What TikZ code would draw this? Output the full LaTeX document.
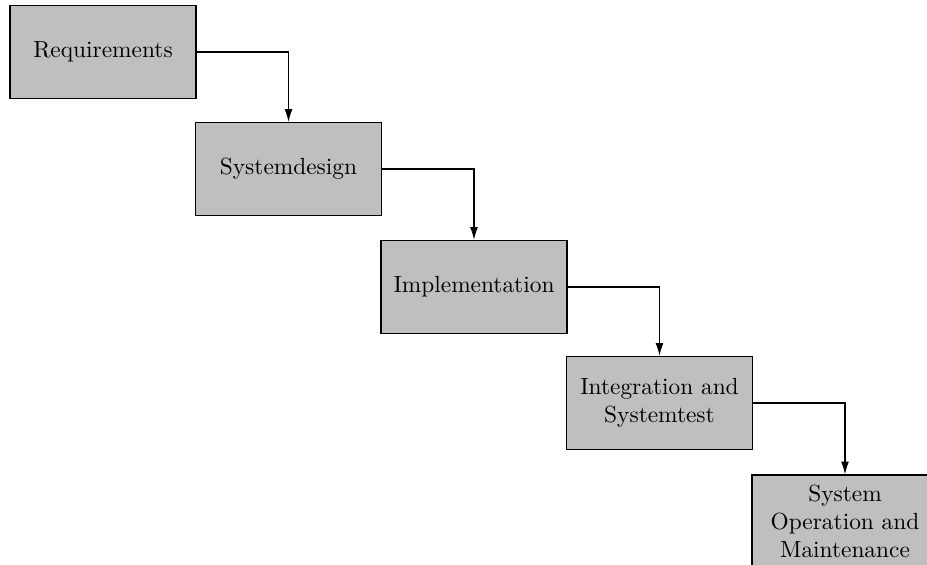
\documentclass[tikz,border=0pt]{standalone}
\usetikzlibrary{arrows.meta}
\begin{document}
\begin{tikzpicture}[x=0.428pt,y=-0.428pt,
  phase/.style={draw=black, fill=lightgray, line width=0.5pt, inner sep=0pt,
    minimum width=79.6pt, minimum height=39.8pt, align=center},
  flow/.style={-{Latex[length=5.5pt,width=3.4pt]}, line width=0.5pt}]
  \useasboundingbox (0,0) rectangle (927,564);
  \begin{scope}
    \clip (0,0) rectangle (927,564);
    \node[phase] (req)  at (103,52)    {Requirements};
    \node[phase] (sys)  at (288.5,169) {Systemdesign};
    \node[phase] (impl) at (474,287)   {Implementation};
    \node[phase] (int)  at (659.5,403) {Integration and\\Systemtest};
    \node[phase] (ops)  at (845,521.5) {System\\Operation and\\Maintenance};
    \draw[flow] (req.east)  -| (sys.north);
    \draw[flow] (sys.east)  -| (impl.north);
    \draw[flow] (impl.east) -| (int.north);
    \draw[flow] (int.east)  -| (ops.north);
  \end{scope}
\end{tikzpicture}
\end{document}
